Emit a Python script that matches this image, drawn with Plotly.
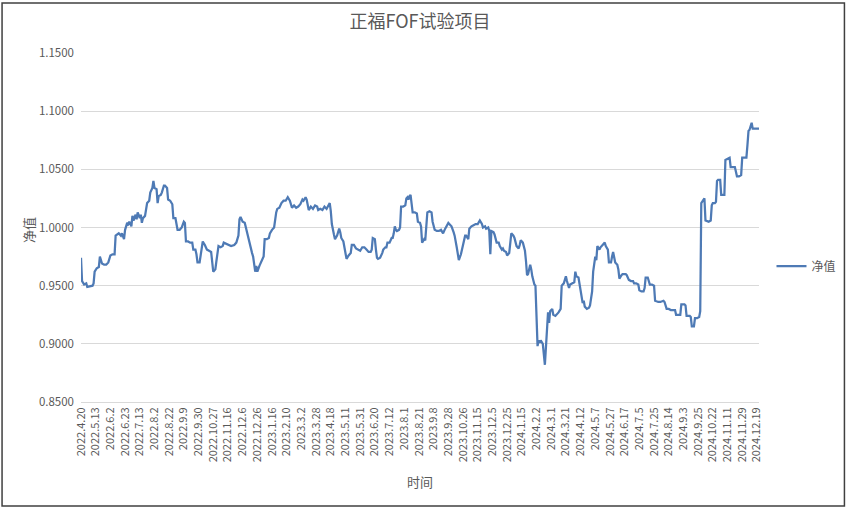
import plotly.graph_objects as go

# trading-day number (0 = 2022.4.20) and net value
day = [0, 1, 3, 5, 6, 9, 11, 12, 13, 15, 17, 18, 20, 22, 24, 26, 28, 30, 32, 33, 35, 36, 38, 39, 41, 42, 44, 45, 46, 48,
       49, 50, 52, 53, 54, 56, 57, 58, 59, 61, 63, 65, 66, 68, 69, 70, 72, 73, 74, 76, 77, 79, 80, 82, 83, 85, 87, 88, 90, 92,
       94, 96, 98, 99, 100, 102, 104, 106, 107, 109, 110, 111, 113, 114, 116, 118, 120, 122, 124, 126, 128,
       129, 131, 133, 135, 136, 138, 140, 143, 146, 148, 150, 151, 152, 154, 156, 157, 159, 161, 163, 164, 166, 167, 168, 170,
       172, 174, 175, 177, 179, 180, 182, 184, 186, 187, 189, 191, 193, 195, 197, 199, 201, 203, 205, 207, 209, 210, 211, 212,
       214, 215, 217, 219, 221, 223, 225, 226, 228, 230, 232, 234, 236, 237, 238, 239, 241, 242, 244, 246, 247, 248, 250, 252,
       253, 255, 257, 258, 260, 262,
       264, 266, 268, 270, 272, 274, 276, 277, 278, 280, 281, 282, 283, 285, 287, 288, 290, 291, 292, 294, 296, 297, 298, 299,
       300, 301, 303, 304, 305, 307, 309, 310, 311, 312, 313, 314, 316, 318, 320, 321, 323, 324, 325, 327, 328, 329, 330, 332,
       334, 335, 336, 337, 339, 341, 343, 345, 347, 348, 350, 352, 353, 355, 356, 358, 359, 360, 362, 364, 366, 367, 369, 370,
       372, 374, 376, 378, 379, 380, 382, 383, 385, 386, 388, 389, 390, 391, 393,
       394, 396, 398, 399, 401, 402, 403, 405, 406, 408, 409, 410, 412, 413, 415, 417, 418, 419, 421, 422, 423, 424, 425, 426,
       428, 429, 430, 432, 433, 434, 435, 436, 437, 438, 440, 442, 443, 444, 445, 446, 447, 449, 450, 452, 453, 455, 457, 458,
       460, 461, 462, 463, 465, 466, 468, 470, 471, 472, 474, 475, 477, 478, 479, 480, 482, 484, 485, 487, 488, 490, 491, 492,
       494, 495, 497, 498, 499, 500, 502, 503, 505, 506, 507, 509, 511, 512, 513, 515, 516,
       519, 520, 522, 524, 526, 527, 529, 531, 532, 534, 536, 537, 538, 540, 542, 544, 546, 547, 550, 552, 555, 556, 558, 560,
       562, 565, 566, 567, 570, 571, 572, 575, 576, 577, 580, 581, 582, 584, 585, 587, 589, 590, 591, 593, 594, 595, 598, 600,
       601, 602, 604, 605, 606, 607, 609, 610, 612, 613, 614, 616, 618, 619, 621, 623, 625, 627, 629, 630, 632, 634, 635, 636,
       637, 639, 640, 642, 644, 646]

nav = [0.974, 0.954, 0.951, 0.952, 0.949, 0.950, 0.950, 0.952, 0.962, 0.965, 0.966, 0.975, 0.969, 0.968, 0.968, 0.970,
       0.976, 0.977, 0.977, 0.993, 0.994, 0.995, 0.993, 0.995, 0.990, 0.998, 1.004, 1.003, 1.005, 1.001,
       1.010, 1.006, 1.011, 1.007, 1.013, 1.008, 1.011, 1.004, 1.008, 1.010, 1.021, 1.023, 1.030, 1.034, 1.040, 1.034, 1.033,
       1.021, 1.027, 1.028, 1.030, 1.036, 1.036, 1.034, 1.024, 1.023, 1.020, 1.008, 1.008, 0.998,
       0.998, 1.000, 1.005, 1.004, 0.988, 0.988, 0.987, 0.987, 0.981, 0.981, 0.977, 0.970, 0.970, 0.975, 0.988, 0.985, 0.981,
       0.980, 0.979, 0.962, 0.964,
       0.971, 0.984, 0.983, 0.984, 0.987, 0.986, 0.985, 0.984, 0.985, 0.987, 0.993, 1.007, 1.009, 1.005, 1.004, 1.000, 0.994,
       0.984, 0.978, 0.975, 0.962, 0.967, 0.962, 0.967,
       0.971, 0.975, 0.990, 0.990, 0.991, 0.995, 0.998, 1.000, 1.013, 1.016, 1.017, 1.021, 1.023, 1.023, 1.026, 1.023, 1.017,
       1.019, 1.017, 1.018, 1.020, 1.023, 1.024, 1.023,
       1.026, 1.024, 1.015, 1.018, 1.016, 1.019, 1.018, 1.015, 1.016, 1.015, 1.018, 1.016, 1.019, 1.021, 1.014, 1.003, 0.994,
       0.990, 0.993, 0.999, 0.996, 0.991, 0.988, 0.977,
       0.973, 0.976, 0.978, 0.985, 0.985, 0.982,
       0.981, 0.980, 0.983, 0.983, 0.981, 0.979, 0.979, 0.981, 0.991, 0.990, 0.981, 0.974, 0.973, 0.974, 0.978, 0.981, 0.983,
       0.983, 0.987, 0.987, 0.991, 0.991, 0.995, 1.001,
       0.998, 0.997, 0.998, 1.000, 1.018, 1.018, 1.019, 1.025, 1.026, 1.024, 1.027, 1.028, 1.013, 1.013, 1.012, 1.005, 1.004,
       1.001, 0.987, 0.990, 0.989, 1.001, 1.013, 1.014,
       1.013, 1.005, 1.001, 0.998, 0.997, 0.997, 0.998, 0.995, 0.999, 1.001, 1.004, 1.002, 1.001, 0.996, 0.993, 0.983, 0.975,
       0.972, 0.977, 0.984, 0.993, 0.993, 0.990, 0.999,
       1.001, 1.002, 1.003, 1.003, 1.005, 1.006, 1.003, 1.000, 1.001, 0.999, 1.000, 0.997, 0.977, 0.997, 0.996,
       0.994, 0.987, 0.987, 0.984, 0.981, 0.982, 0.980, 0.979, 0.976, 0.978, 0.990, 0.995, 0.993, 0.991, 0.984, 0.982, 0.985,
       0.989, 0.987, 0.982, 0.980, 0.971, 0.959, 0.960,
       0.968, 0.964, 0.958, 0.951, 0.950, 0.924, 0.898, 0.903, 0.901, 0.903, 0.900, 0.882, 0.897, 0.922, 0.927, 0.918, 0.928,
       0.930, 0.925, 0.924, 0.925, 0.927, 0.930, 0.950,
       0.952, 0.955, 0.958, 0.954, 0.948, 0.951, 0.952, 0.953, 0.962, 0.958, 0.957, 0.951, 0.942, 0.935, 0.937, 0.932, 0.930,
       0.931, 0.933, 0.945, 0.962, 0.975, 0.972, 0.984,
       0.981, 0.983, 0.985, 0.986, 0.987, 0.984, 0.981, 0.970, 0.970, 0.975, 0.979, 0.970, 0.968, 0.964, 0.956, 0.959, 0.960,
       0.960, 0.959, 0.955, 0.954, 0.954, 0.952, 0.952, 0.951, 0.946, 0.945, 0.945, 0.948, 0.957, 0.957, 0.951, 0.951, 0.950,
       0.937, 0.936, 0.936, 0.937, 0.936, 0.930, 0.930,
       0.929, 0.929, 0.929, 0.925, 0.925, 0.925, 0.934, 0.934, 0.933, 0.924, 0.924, 0.923, 0.915, 0.915, 0.922, 0.922, 0.923,
       0.928, 1.021, 1.024, 1.025, 1.006, 1.005, 1.006,
       1.019, 1.021, 1.021, 1.022, 1.040, 1.041, 1.041, 1.028, 1.028, 1.028, 1.058, 1.059, 1.060, 1.052, 1.052, 1.052, 1.044,
       1.044, 1.045, 1.060, 1.060, 1.060, 1.071, 1.083,
       1.084, 1.090, 1.085, 1.085, 1.085, 1.085]

tick_labels = ["2022.4.20", "2022.5.13", "2022.6.2", "2022.6.23", "2022.7.13", "2022.8.2", "2022.8.22", "2022.9.9",
               "2022.9.30", "2022.10.27", "2022.11.16", "2022.12.6", "2022.12.26", "2023.1.16", "2023.2.10", "2023.3.2",
               "2023.3.28", "2023.4.18", "2023.5.11", "2023.5.31", "2023.6.20", "2023.7.12", "2023.8.1", "2023.8.21",
               "2023.9.8", "2023.9.28", "2023.10.26", "2023.11.15", "2023.12.5", "2023.12.25", "2024.1.15", "2024.2.2",
               "2024.3.1", "2024.3.21", "2024.4.12", "2024.5.7", "2024.5.27", "2024.6.17", "2024.7.5", "2024.7.25",
               "2024.8.14", "2024.9.3", "2024.9.25", "2024.10.22", "2024.11.11", "2024.11.29", "2024.12.19"]
label_every = 14  # trading days between labels

y_ticks = [0.85, 0.90, 0.95, 1.00, 1.05, 1.10, 1.15]

FONT = "Noto Sans CJK SC"
GRAY = "#595959"

fig = go.Figure()
fig.add_trace(go.Scatter(x=day, y=nav, mode="lines", name="净值",
                         line=dict(color="#4E7AB5", width=2.25)))

W, H = 847, 509
L, R, T, B = 81, 87.5, 53, 107
pw, ph = W - L - R, H - T - B

def px2paper_x(px):
    return (px - L) / pw

def px2paper_y(py):
    return (H - B - py) / ph

fig.update_layout(
    width=W, height=H,
    margin=dict(l=L, r=R, t=T, b=B, autoexpand=False),
    paper_bgcolor="white", plot_bgcolor="white",
    font=dict(family=FONT, color=GRAY, size=11),
    title=dict(text="正福FOF试验项目", x=0.5, xanchor="center", xref="paper",
               y=1 - 22 / H, yanchor="middle", yref="container",
               font=dict(family=FONT, size=18, color=GRAY)),
    showlegend=True,
    legend=dict(x=px2paper_x(772), y=px2paper_y(266), xanchor="left", yanchor="middle",
                font=dict(family=FONT, size=12, color=GRAY), itemwidth=30,
                bgcolor="rgba(0,0,0,0)"),
    xaxis=dict(range=[0, 646], tickmode="array",
               tickvals=[i * label_every for i in range(len(tick_labels))],
               ticktext=tick_labels, tickangle=-90, showgrid=False, zeroline=False,
               showline=True, linecolor="#d9d9d9", linewidth=1,
               tickfont=dict(family=FONT, size=11, color=GRAY), ticks="", automargin=False),
    yaxis=dict(range=[0.85, 1.15], tickmode="array", tickvals=y_ticks,
               ticktext=[f"{v:.4f}" for v in y_ticks], showgrid=True, gridcolor="#d9d9d9",
               gridwidth=1, zeroline=False, showline=False, ticks="", ticklabelstandoff=6,
               tickfont=dict(family=FONT, size=11.5, color=GRAY), automargin=False),
    annotations=[
        dict(text="净值", x=px2paper_x(28), y=px2paper_y(230), xref="paper", yref="paper",
             xanchor="center", yanchor="middle",
             showarrow=False, textangle=-90, font=dict(family=FONT, size=13, color=GRAY)),
        dict(text="时间", x=px2paper_x(420), y=px2paper_y(481), xref="paper", yref="paper",
             xanchor="center", yanchor="middle",
             showarrow=False, font=dict(family=FONT, size=13, color=GRAY)),
    ],
    shapes=[
        dict(type="rect", xref="paper", yref="paper",
             x0=px2paper_x(2), x1=px2paper_x(845), y0=px2paper_y(506), y1=px2paper_y(3),
             line=dict(color="#404040", width=1.5), fillcolor="rgba(0,0,0,0)", layer="below"),
    ],
)

fig.write_html("out.html", config={"displayModeBar": False},
               post_script="document.body.style.margin='0';document.body.style.overflow='hidden';")
